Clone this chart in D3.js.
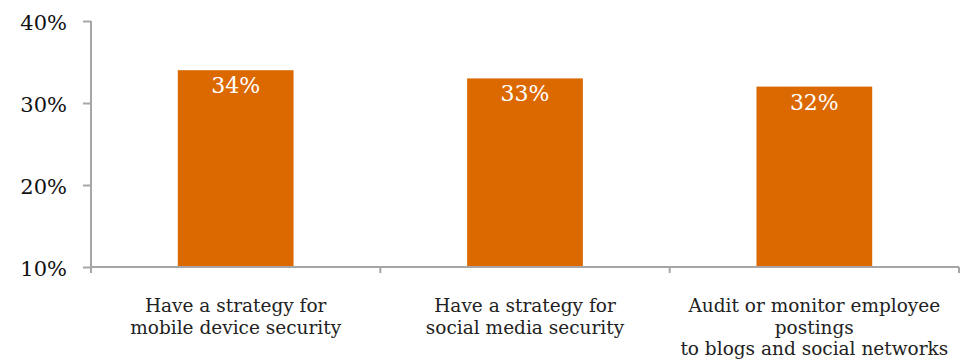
<!DOCTYPE html>
<html>
<head>
<meta charset="utf-8">
<script src="https://d3js.org/d3.v7.min.js"></script>
<style>
  body { margin: 0; background: #fff; }
  .tick text { font-family: "DejaVu Serif", Georgia, serif; }
</style>
</head>
<body>
<div id="chart"></div>
<script>
// data
const categories = [
  ["Have a strategy for", "mobile device security"],
  ["Have a strategy for", "social media security"],
  ["Audit or monitor employee", "postings", "to blogs and social networks"]
];
const values = [34, 33, 32];
const yTicks = [10, 20, 30, 40];

const W = 960, H = 363;
const margin = { top: 21, right: 1, bottom: 96, left: 91 };
const width = W - margin.left - margin.right;
const height = H - margin.top - margin.bottom;

const svg = d3.select("#chart").append("svg")
  .attr("width", W).attr("height", H);
const g = svg.append("g").attr("transform", `translate(${margin.left},${margin.top})`);

const x = d3.scaleBand().domain(d3.range(categories.length)).range([0, width])
  .paddingInner(0.6).paddingOuter(0.3);
const y = d3.scaleLinear().domain([10, 40]).range([height, 0]);

// bars
g.selectAll("rect.bar").data(values).enter().append("rect")
  .attr("class", "bar")
  .attr("x", (d, i) => x(i))
  .attr("width", x.bandwidth())
  .attr("y", d => y(d))
  .attr("height", d => height - y(d))
  .attr("fill", "#dc6900");

// value labels
g.selectAll("text.val").data(values).enter().append("text")
  .attr("class", "val")
  .attr("x", (d, i) => x(i) + x.bandwidth() / 2)
  .attr("y", d => y(d) + 23)
  .attr("text-anchor", "middle")
  .attr("fill", "#fff")
  .style("font-family", "'DejaVu Serif', Georgia, serif")
  .style("font-size", "22px")
  .text(d => d + "%");

// y axis
const yAxis = g.append("g")
  .call(d3.axisLeft(y).tickValues(yTicks).tickFormat(d => d + "%").tickSize(8).tickPadding(16));
yAxis.selectAll("path, line").attr("stroke", "#a6a6a6").attr("stroke-width", 2);
yAxis.select(".domain").attr("d", `M0,${height}V0`);
yAxis.selectAll("text").style("font-size", "21px").attr("fill", "#111").attr("dy", "0.4em");

// x axis
const bandStep = width / categories.length;
const xAxis = g.append("g").attr("transform", `translate(0,${height})`);
xAxis.append("line").attr("x1", 0).attr("x2", width).attr("stroke", "#a6a6a6").attr("stroke-width", 2);
xAxis.selectAll("line.sep").data(d3.range(categories.length + 1)).enter().append("line")
  .attr("class", "sep")
  .attr("x1", i => i * bandStep).attr("x2", i => i * bandStep)
  .attr("y1", 0).attr("y2", 6)
  .attr("stroke", "#a6a6a6").attr("stroke-width", 2);

// category labels
const lab = xAxis.selectAll("text.cat").data(categories).enter().append("text")
  .attr("class", "cat")
  .attr("x", (d, i) => x(i) + x.bandwidth() / 2)
  .attr("y", 45)
  .attr("text-anchor", "middle")
  .attr("fill", "#222")
  .style("font-family", "'DejaVu Serif', Georgia, serif")
  .style("font-size", "18.5px");
lab.selectAll("tspan").data(d => d).enter().append("tspan")
  .attr("x", function () { return this.parentNode.getAttribute("x"); })
  .attr("dy", (d, i) => i === 0 ? 0 : 21.5)
  .text(d => d);
</script>
</body>
</html>
